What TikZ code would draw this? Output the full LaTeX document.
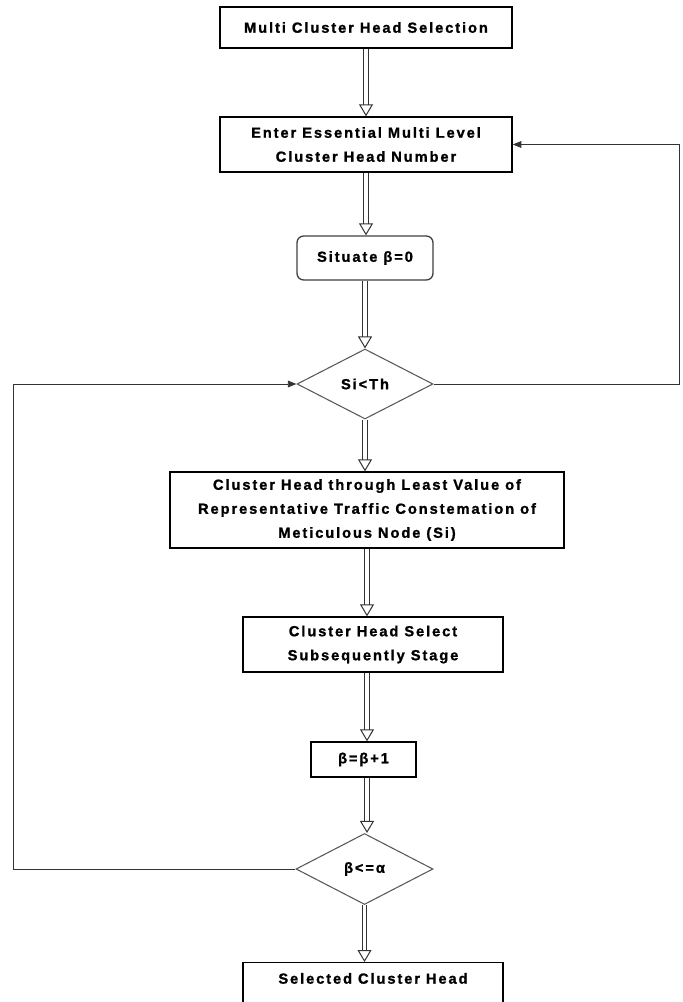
\documentclass[tikz,border=0pt]{standalone}
\usepackage{fontspec}
\newfontfamily\chfont{Liberation Sans}[LetterSpace=13, FakeBold=1.2]
\usetikzlibrary{shapes.geometric,arrows.meta}

\begin{document}
\begin{tikzpicture}[x=0.75pt, y=-0.75pt, >={Triangle[length=6.5pt, width=5pt]},
		box/.style={draw=black, line width=1pt, fill=white, align=center, inner sep=0pt,
			font=\chfont\bfseries\fontsize{11}{18}\selectfont},
		test/.style={box, diamond, draw=black!65, line width=0.8pt},
		dbl/.style={draw=black!80, double, double distance=2.6pt, line width=0.75pt,
			-{Triangle[open, width=10.5pt, length=9pt]}},
		fb/.style={draw=black!80, line width=0.7pt}]
			\clip (0,0) rectangle (682,1002);
			
			% steps from top to bottom
			\node[box, minimum width=219pt, minimum height=30.75pt] (sel) at (366,27.5) {Multi Cluster Head Selection};
			\node[box, minimum width=219pt, minimum height=41.25pt] (enter) at (366,144.5) {Enter Essential Multi Level\\Cluster Head Number};
			\node[box, rounded corners=5pt, draw=black!75, minimum width=102pt, minimum height=33pt] (init) at (365,258) {Situate β=0};
			\node[test, minimum width=102pt, minimum height=52.5pt] (cmp) at (365,384) {Si<Th};
			\node[box, minimum width=295.5pt, minimum height=57pt] (chsel) at (367,510) {Cluster Head through Least Value of\\Representative Traffic Constemation of\\Meticulous Node (Si)};
			\node[box, minimum width=195pt, minimum height=41.25pt] (next) at (373,644.5) {Cluster Head Select\\Subsequently Stage};
			\node[box, minimum width=78.75pt, minimum height=26.25pt] (inc) at (363.5,759.5) {β=β+1};
			\node[test, minimum width=102.75pt, minimum height=53.25pt] (chk) at (364.5,869) {β<=α};
			\node[box, anchor=north, minimum width=195pt, inner ysep=7pt, text height=8.75pt, text depth=40pt] (done) at (373,962) {Selected Cluster Head};
			
			% turning points of the loops
			\coordinate (rgt) at (679,0);
			\coordinate (lft) at (13,0);
			
			% double arrows
			\draw[dbl] (sel.south) -- (sel.south |- enter.north);
			\draw[dbl] (enter.south) -- (enter.south |- init.north);
			\draw[dbl] (init.south) -- (init.south |- cmp.north);
			\draw[dbl] (cmp.south) -- (cmp.south |- chsel.north);
			\draw[dbl] (chsel.south) -- (chsel.south |- next.north);
			\draw[dbl] (chsel.south |- next.south) -- (chsel.south |- inc.north);
			\draw[dbl] (chsel.south |- inc.south) -- (chsel.south |- chk.north);
			\draw[dbl] (chk.south) -- (chk.south |- done.north);
			
			% loops
			\draw[fb, ->] (cmp.east) -| (rgt |- enter.east) -- (enter.east);
			\draw[fb, ->] (chk.west) -| (lft |- cmp.west) -- (cmp.west);
		\end{tikzpicture}
\end{document}
